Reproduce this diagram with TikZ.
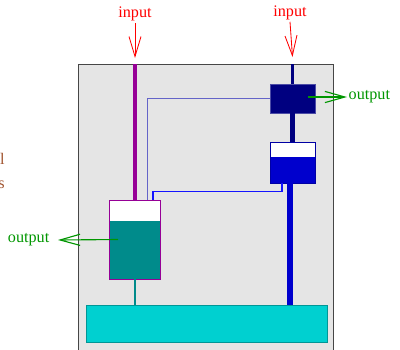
\documentclass[tikz,border=0pt]{standalone}
\usepackage{fontspec}
\setmainfont{Liberation Serif}
\usepackage{tikz}
\usetikzlibrary{
  arrows.meta,
  positioning,
  calc
}
\definecolor{framecolor}{RGB}{229, 229, 229}
\definecolor{frameline}{RGB}{70, 70, 70}
\definecolor{inputcolor}{RGB}{255, 0, 0}
\definecolor{outputcolor}{RGB}{0, 150, 0}
\definecolor{notecolor}{RGB}{160, 82, 45}
\definecolor{feedcolor}{RGB}{150, 0, 150}
\definecolor{valvecolor}{RGB}{0, 0, 128}
\definecolor{bluetank}{RGB}{0, 0, 205}
\definecolor{tealtank}{RGB}{0, 139, 139}
\definecolor{basincolor}{RGB}{0, 208, 208}
\definecolor{basinline}{RGB}{0, 150, 150}
\definecolor{signalcolor}{RGB}{100, 100, 200}
\definecolor{levelcolor}{RGB}{20, 20, 255}
\tikzset{
labeltext/.style={
  font=\fontsize{11.5}{13}\selectfont,
  inner sep=1pt
},
inlabel/.style={
  labeltext,
  text=inputcolor
},
outlabel/.style={
  labeltext,
  text=outputcolor
},
inarrow/.style={
  -{Straight Barb[length=5mm,width=3mm]},
  line width=0.6pt,
  draw=inputcolor
},
outarrow/.style={
  -{Straight Barb[length=5mm,width=2.8mm]},
  line width=0.8pt,
  draw=outputcolor
},
valvebox/.style={
  draw=valvecolor!70,
  fill=valvecolor,
  minimum width=11.25mm,
  minimum height=7.25mm,
  inner sep=0pt
},
tank/.style n args={3}{
  draw=#1,
  line width=0.5pt,
  fill=white,
  inner sep=0pt,
  path picture={
    \fill[#2] (path picture bounding box.south west)
      rectangle ([yshift=#3]path picture bounding box.south east);
  }
},
basinbox/.style={
  draw=basinline,
  fill=basincolor,
  minimum width=60.25mm,
  minimum height=9.25mm,
  inner sep=0pt
},
pipe/.style={
  line width=#1
},
signal/.style={
  draw=signalcolor,
  line width=0.7pt
},
levelsignal/.style={
  draw=levelcolor,
  line width=1pt
}
}
\begin{document}
\begin{tikzpicture}[x=0.25mm,y=-0.25mm]
  \useasboundingbox (0,0) rectangle (400,349);
  \fill[framecolor] (78,64) rectangle (333,352);
  \draw[frameline, line width=0.6pt] (78,352) |- (333,64) -- (333,352);

  % labels
  \node[inlabel] (inA) at (135,14) {input};
  \node[inlabel] (inB) at (290,13) {input};
  \node[outlabel, anchor=west] (outB) at (347,97) {output};
  \node[outlabel, anchor=east] (outA) at (51,240) {output};
  \node[labeltext, text=notecolor, align=right, anchor=east, inner sep=0pt,
    font=\fontsize{11.5}{17}\selectfont] (note) at (5,173) {control\\signals};

  % vessels
  \node[valvebox] (valve) at (292.5,98.5) {};
  \node[tank={bluetank!80!black}{bluetank}{6.5mm},
    minimum width=11.25mm, minimum height=10.25mm] (tankB) at (292.5,162.5) {};
  \node[tank={feedcolor}{tealtank}{14.5mm},
    minimum width=12.75mm, minimum height=19.75mm] (tankA) at (134.5,239.5) {};
  \node[basinbox] (basin) at (206.5,323.5) {};

  \coordinate (topA) at (135,64);
  \coordinate (topB) at (292.5,64);
  \coordinate (tipA) at (58,240);
  \coordinate (drain) at ($(tankB.south)+(-2.5,0)$);
  \coordinate (level) at ($(tankB.south)+(-10.5,0)$);

  % pipes
  \draw[pipe=0.8mm, feedcolor] (topA) -- (topA |- tankA.north);
  \draw[pipe=0.75mm, valvecolor] (topB) -- (valve.north);
  \draw[pipe=1.2mm, valvecolor] (valve.south) -- (tankB.north);
  \draw[pipe=1.5mm, bluetank] (drain) -- (drain |- basin.north);
  \draw[pipe=0.5mm, tealtank] (tankA.south) -- (tankA.south |- basin.north);

  % signal lines
  \draw[signal] (valve.west) -| ($(tankA.north)+(12.5,0)$);
  \draw[levelsignal] (level) -- ++(0,8) -| ($(tankA.north)+(18.5,0)$);

  % flows
  \draw[inarrow] (inA.south) -- ($(topA)+(0,-6)$);
  \draw[inarrow] (inB.south) -- ($(topB)+(0,-7)$);
  \draw[outarrow] ($(valve.center)+(15.5,-1.5)$) -- (outB.west);
  \draw[outarrow] ($(tankA.center)+(-16.5,0)$) -- (tipA);
\end{tikzpicture}
\end{document}
